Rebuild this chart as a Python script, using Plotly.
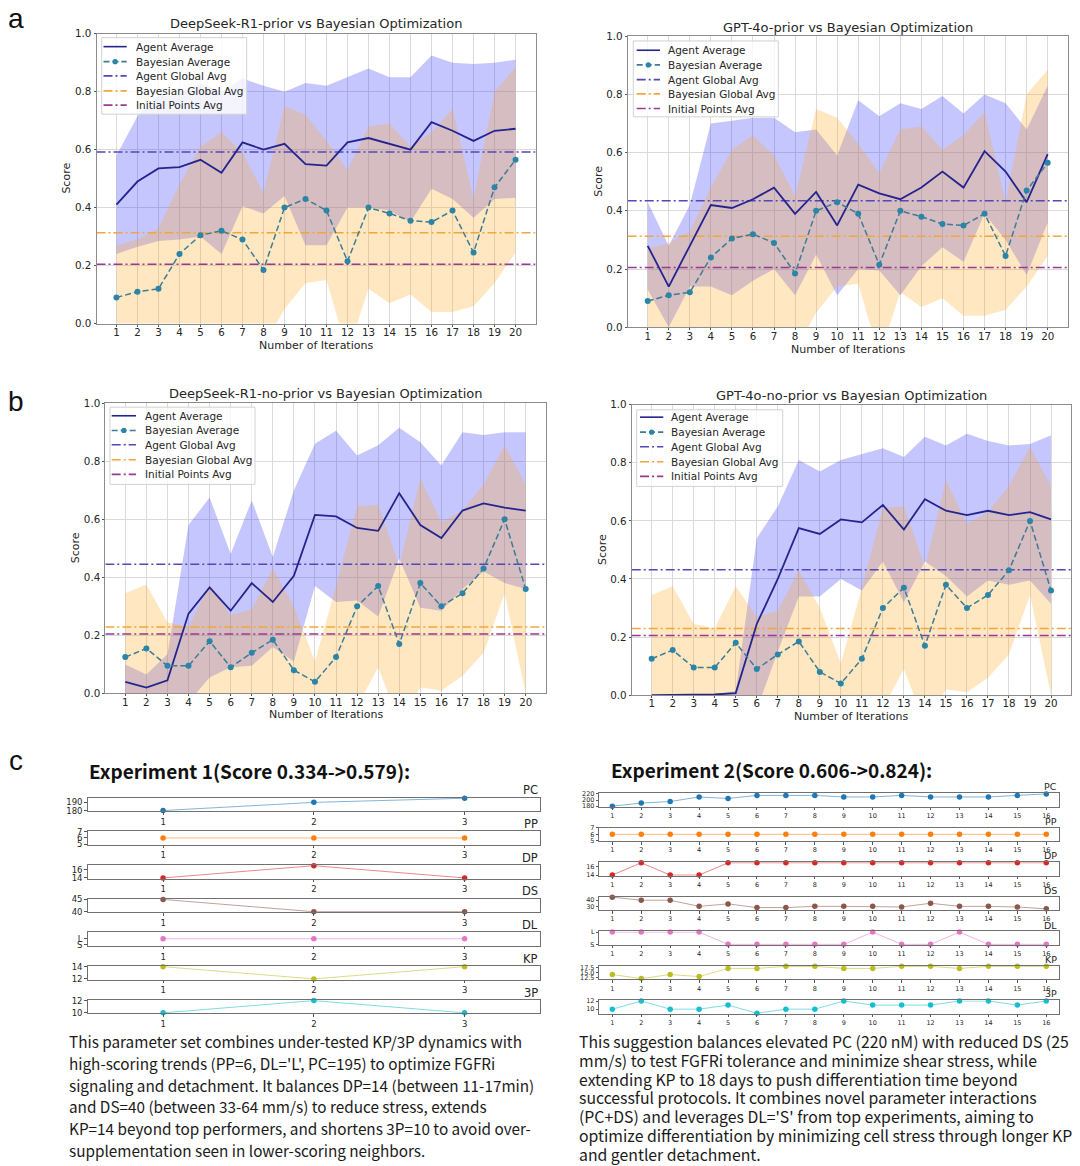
import plotly.graph_objects as go

W, H = 1080, 1166

# ---------------- data: panels a / b ----------------
iterations = list(range(1, 21))
score_ticks = [0.0, 0.2, 0.4, 0.6, 0.8, 1.0]

# Bayesian optimization (shared by both charts of row a)
bayes_a_mean = [0.09, 0.11, 0.12, 0.24, 0.305, 0.32, 0.29, 0.185, 0.40, 0.43, 0.39, 0.215, 0.40, 0.38, 0.355, 0.35, 0.39, 0.245, 0.47, 0.565]
bayes_a_upper = [0.27, 0.29, 0.33, 0.48, 0.61, 0.66, 0.59, 0.45, 0.75, 0.72, 0.63, 0.53, 0.68, 0.69, 0.61, 0.66, 0.74, 0.43, 0.80, 0.885]
bayes_a_lower = [-0.09, -0.07, -0.09, 0.0, 0.0, -0.02, -0.01, -0.08, 0.05, 0.14, 0.15, -0.10, 0.12, 0.07, 0.10, 0.04, 0.04, 0.06, 0.14, 0.245]
bayes_a_global = 0.313

# DeepSeek-R1-prior
ds_prior_mean = [0.41, 0.49, 0.535, 0.54, 0.565, 0.52, 0.625, 0.60, 0.62, 0.55, 0.545, 0.625, 0.64, 0.62, 0.60, 0.695, 0.665, 0.63, 0.665, 0.672]
ds_prior_upper = [0.58, 0.715, 0.785, 0.79, 0.83, 0.80, 0.845, 0.82, 0.80, 0.83, 0.82, 0.85, 0.88, 0.85, 0.85, 0.925, 0.90, 0.895, 0.90, 0.91]
ds_prior_lower = [0.24, 0.265, 0.285, 0.29, 0.30, 0.24, 0.405, 0.38, 0.44, 0.27, 0.27, 0.40, 0.40, 0.39, 0.35, 0.465, 0.43, 0.365, 0.43, 0.434]
ds_prior_global = 0.592

# GPT-4o-prior
gpt_prior_mean = [0.28, 0.14, 0.28, 0.42, 0.41, 0.44, 0.48, 0.39, 0.465, 0.35, 0.49, 0.46, 0.44, 0.48, 0.535, 0.48, 0.605, 0.535, 0.43, 0.595]
gpt_prior_upper = [0.43, 0.28, 0.42, 0.70, 0.71, 0.72, 0.72, 0.67, 0.68, 0.59, 0.78, 0.725, 0.77, 0.75, 0.795, 0.735, 0.80, 0.77, 0.68, 0.83]
gpt_prior_lower = [0.13, 0.0, 0.14, 0.14, 0.11, 0.16, 0.20, 0.11, 0.25, 0.11, 0.20, 0.195, 0.11, 0.21, 0.275, 0.225, 0.39, 0.30, 0.18, 0.36]
gpt_prior_global = 0.435

# Bayesian optimization (shared by both charts of row b)
bayes_b_mean = [0.125, 0.155, 0.095, 0.095, 0.18, 0.09, 0.14, 0.185, 0.08, 0.04, 0.125, 0.30, 0.37, 0.17, 0.38, 0.30, 0.345, 0.43, 0.60, 0.36]
bayes_b_upper = [0.345, 0.375, 0.245, 0.23, 0.375, 0.27, 0.29, 0.43, 0.30, 0.11, 0.37, 0.645, 0.65, 0.44, 0.74, 0.59, 0.63, 0.72, 0.855, 0.72]
bayes_b_lower = [-0.095, -0.065, -0.055, -0.04, -0.015, -0.09, -0.01, -0.06, -0.14, -0.03, -0.12, -0.045, 0.09, -0.10, 0.02, 0.01, 0.06, 0.14, 0.345, 0.0]
bayes_b_global = 0.229

# DeepSeek-R1-no-prior
ds_noprior_mean = [0.04, 0.02, 0.045, 0.275, 0.365, 0.285, 0.38, 0.315, 0.405, 0.615, 0.61, 0.57, 0.56, 0.69, 0.58, 0.535, 0.63, 0.655, 0.64, 0.63]
ds_noprior_upper = [0.10, 0.065, 0.135, 0.58, 0.675, 0.48, 0.665, 0.47, 0.70, 0.86, 0.905, 0.82, 0.855, 0.915, 0.865, 0.785, 0.90, 0.89, 0.90, 0.90]
ds_noprior_lower = [-0.02, -0.025, -0.045, -0.03, 0.055, 0.09, 0.095, 0.16, 0.11, 0.37, 0.315, 0.32, 0.265, 0.465, 0.295, 0.285, 0.36, 0.42, 0.38, 0.36]
ds_noprior_global = 0.445

# GPT-4o-no-prior
gpt_noprior_mean = [0.0, 0.0, 0.0, 0.002, 0.007, 0.245, 0.40, 0.575, 0.555, 0.605, 0.595, 0.655, 0.57, 0.675, 0.635, 0.62, 0.635, 0.62, 0.63, 0.605]
gpt_noprior_upper = [0.0, 0.0, 0.0, 0.004, 0.014, 0.54, 0.65, 0.81, 0.77, 0.81, 0.83, 0.85, 0.82, 0.89, 0.86, 0.90, 0.875, 0.86, 0.865, 0.895]
gpt_noprior_lower = [0.0, 0.0, 0.0, 0.0, 0.0, -0.05, 0.15, 0.34, 0.34, 0.40, 0.36, 0.46, 0.32, 0.46, 0.41, 0.34, 0.395, 0.38, 0.395, 0.315]
gpt_noprior_global = 0.432

initial_points_avg = 0.205

legend_labels = ["Agent Average", "Bayesian Average", "Agent Global Avg", "Bayesian Global Avg", "Initial Points Avg"]

# ---------------- data: panel c ----------------
param_names = ["PC", "PP", "DP", "DS", "DL", "KP", "3P"]

exp1_steps = [1, 2, 3]
exp1_PC = [180, 190, 195]
exp1_PP = [6, 6, 6]
exp1_DP = [14, 17, 14]
exp1_DS = [45, 40, 40]
exp1_DL = ["L", "L", "L"]
exp1_KP = [14, 12, 14]
exp1_3P = [10, 12, 10]

exp2_steps = list(range(1, 17))
exp2_PC = [180, 190, 195, 210, 205, 215, 215, 215, 210, 210, 215, 210, 210, 210, 215, 220]
exp2_PP = [6, 6, 6, 6, 6, 6, 6, 6, 6, 6, 6, 6, 6, 6, 6, 6]
exp2_DP = [14, 17, 14, 14, 17, 17, 17, 17, 17, 17, 17, 17, 17, 17, 17, 17]
exp2_DS = [45, 40, 40, 30, 34, 28, 28, 30, 30, 30, 29, 35, 30, 30, 29, 26]
exp2_DL = ["L", "L", "L", "L", "S", "S", "S", "S", "S", "L", "S", "S", "L", "S", "S", "S"]
exp2_KP = [14, 12, 14, 13, 17, 17, 18, 18, 17, 17, 18, 18, 17, 18, 18, 18]
exp2_3P = [10, 12, 10, 10, 11, 9, 10, 10, 12, 11, 11, 11, 12, 12, 11, 12]

dl_levels = ["S", "L"]

exp1_title = "Experiment 1(Score 0.334->0.579):"
exp2_title = "Experiment 2(Score 0.606->0.824):"

exp1_text = [
    "This parameter set combines under-tested KP/3P dynamics with",
    "high-scoring trends (PP=6, DL='L', PC=195) to optimize FGFRi",
    "signaling and detachment. It balances DP=14 (between 11-17min)",
    "and DS=40 (between 33-64 mm/s) to reduce stress, extends",
    "KP=14 beyond top performers, and shortens 3P=10 to avoid over-",
    "supplementation seen in lower-scoring neighbors.",
]
exp2_text = [
    "This suggestion balances elevated PC (220 nM) with reduced DS (25",
    "mm/s) to test FGFRi tolerance and minimize shear stress, while",
    "extending KP to 18 days to push differentiation time beyond",
    "successful protocols. It combines novel parameter interactions",
    "(PC+DS) and leverages DL='S' from top experiments, aiming to",
    "optimize differentiation by minimizing cell stress through longer KP",
    "and gentler detachment.",
]

# ---------------- styles ----------------
AGENT_LINE = "#24248f"
AGENT_FILL = "rgba(45,45,250,0.27)"
BAYES_LINE = "#3f7b92"
BAYES_MARK = "#2c85a6"
BAYES_FILL = "rgba(255,168,30,0.27)"
AGENT_GLOBAL = "#5447b8"
BAYES_GLOBAL = "#f2a63c"
INIT_AVG = "#983a90"
GRID = "#dadada"
FRAME = "#8c8c8c"
TXT = "#262626"
MPL = "DejaVu Sans"
TEXT_FONT = "Noto Sans CJK SC"
DASHDOT = "9px,3px,2px,3px"
DASH = "6px,3px"
TAB = {"PC": "#1f77b4", "PP": "#ff7f0e", "DP": "#d62728", "DS": "#8c564b",
       "DL": "#e377c2", "KP": "#bcbd22", "3P": "#17becf"}

# small vertical calibration of the page layout
Y_SHIFT, Y_SCALE = 5.0, 0.991


def X(px):
    return px / W


def Y(py):
    return 1 - ((py - Y_SHIFT) / Y_SCALE) / H


def rgba(hexcol, a):
    h = hexcol.lstrip("#")
    return "rgba(%d,%d,%d,%.2f)" % (int(h[0:2], 16), int(h[2:4], 16), int(h[4:6], 16), a)


fig = go.Figure()
axes_layout = {}
annotations = []
shapes = []
counter = [0]


def add_axes(x0, x1, y0, y1, xa, ya):
    counter[0] += 1
    n = counter[0]
    k = "" if n == 1 else str(n)
    axes_layout["xaxis" + k] = dict(domain=[X(x0), X(x1)], anchor="y" + k, **xa)
    axes_layout["yaxis" + k] = dict(domain=[Y(y1), Y(y0)], anchor="x" + k, **ya)
    return "x" + k, "y" + k


def main_axis(rng, tickvals, fmt=None, standoff=0):
    d = dict(range=rng, tickvals=tickvals, showgrid=True, gridcolor=GRID, gridwidth=1,
             showline=True, mirror=True, linecolor=FRAME, linewidth=1, zeroline=False,
             ticks="outside", ticklen=2, tickwidth=1, tickcolor="#555",
             ticklabelstandoff=standoff,
             tickfont=dict(family=MPL, size=10.3, color=TXT), fixedrange=True)
    if fmt:
        d["tickformat"] = fmt
    return d


def text(s, x, y, size, xanchor="center", yanchor="middle", angle=0, family=MPL, color=TXT):
    annotations.append(dict(text=s, x=X(x), y=Y(y), xref="paper", yref="paper",
                            xanchor=xanchor, yanchor=yanchor, showarrow=False, textangle=angle,
                            font=dict(family=family, size=size, color=color)))


legend_styles = [
    (AGENT_LINE, "solid", False),
    (BAYES_LINE, DASH, True),
    (AGENT_GLOBAL, DASHDOT, False),
    (BAYES_GLOBAL, DASHDOT, False),
    (INIT_AVG, DASHDOT, False),
]


def draw_legend(box, rows, sx0, sx1, tx):
    bx0, by0, bx1, by1 = box
    shapes.append(dict(type="rect", xref="paper", yref="paper", x0=X(bx0), x1=X(bx1),
                       y0=Y(by1), y1=Y(by0), fillcolor="rgba(255,255,255,0.8)",
                       line=dict(color="#d2d2d2", width=1), layer="above"))
    for label, (col, dash, mk), ry in zip(legend_labels, legend_styles, rows):
        shapes.append(dict(type="line", xref="paper", yref="paper", x0=X(sx0), x1=X(sx1),
                           y0=Y(ry), y1=Y(ry), line=dict(color=col, width=1.6, dash=dash), layer="above"))
        if mk:
            cx, r = (sx0 + sx1) / 2, 2.6
            shapes.append(dict(type="circle", xref="paper", yref="paper", x0=X(cx - r), x1=X(cx + r),
                               y0=Y(ry + r), y1=Y(ry - r), fillcolor=BAYES_MARK,
                               line=dict(width=0), layer="above"))
        text(label, tx, ry, 10.5, xanchor="left")


def score_chart(c):
    xa, ya = add_axes(c["x0"], c["x1"], c["y0"], c["y1"],
                      main_axis([0.05, 20.95], iterations, standoff=-3),
                      main_axis([0, 1], score_ticks, ".1f"))
    common = dict(xaxis=xa, yaxis=ya, showlegend=False, hoverinfo="skip")
    fig.add_trace(go.Scatter(x=iterations, y=c["alo"], mode="lines", line=dict(width=0), **common))
    fig.add_trace(go.Scatter(x=iterations, y=c["ahi"], mode="lines", line=dict(width=0),
                             fill="tonexty", fillcolor=AGENT_FILL, **common))
    fig.add_trace(go.Scatter(x=iterations, y=c["blo"], mode="lines", line=dict(width=0), **common))
    fig.add_trace(go.Scatter(x=iterations, y=c["bhi"], mode="lines", line=dict(width=0),
                             fill="tonexty", fillcolor=BAYES_FILL, **common))
    for val, col in [(c["ag"], AGENT_GLOBAL), (c["bg"], BAYES_GLOBAL), (initial_points_avg, INIT_AVG)]:
        fig.add_trace(go.Scatter(x=[0.05, 20.95], y=[val, val], mode="lines",
                                 line=dict(color=col, width=1.5, dash=DASHDOT), **common))
    fig.add_trace(go.Scatter(x=iterations, y=c["am"], mode="lines",
                             line=dict(color=AGENT_LINE, width=1.8), **common))
    fig.add_trace(go.Scatter(x=iterations, y=c["bm"], mode="lines+markers",
                             line=dict(color=BAYES_LINE, width=1.5, dash=DASH),
                             marker=dict(color=BAYES_MARK, size=6), **common))
    cx = (c["x0"] + c["x1"]) / 2
    cy = (c["y0"] + c["y1"]) / 2
    text(c["title"], cx, c["ty"], 13)
    text("Number of Iterations", cx, c["xly"], 11)
    text("Score", c["ylx"], cy, 11, angle=-90)
    draw_legend(c["lbox"], c["lrows"], c["sx0"], c["sx1"], c["tx"])


charts = [
    dict(x0=96.5, x1=535.5, y0=32.7, y1=323, title="DeepSeek-R1-prior vs Bayesian Optimization",
         am=ds_prior_mean, ahi=ds_prior_upper, alo=ds_prior_lower,
         bm=bayes_a_mean, bhi=bayes_a_upper, blo=bayes_a_lower,
         ag=ds_prior_global, bg=bayes_a_global, ty=23, xly=344.5, ylx=67,
         lbox=(101.7, 36.7, 246.7, 113.3), lrows=[45.7, 60.7, 75, 90, 104.3], sx0=103.5, sx1=126.7, tx=134),
    dict(x0=627.7, x1=1067.7, y0=35.3, y1=326.7, title="GPT-4o-prior vs Bayesian Optimization",
         am=gpt_prior_mean, ahi=gpt_prior_upper, alo=gpt_prior_lower,
         bm=bayes_a_mean, bhi=bayes_a_upper, blo=bayes_a_lower,
         ag=gpt_prior_global, bg=bayes_a_global, ty=26.7, xly=348.5, ylx=599,
         lbox=(633.3, 40, 778.3, 116), lrows=[49.3, 64, 78.7, 93, 107.7], sx0=636.7, sx1=660, tx=666),
    dict(x0=105.3, x1=545.7, y0=402.7, y1=693.3, title="DeepSeek-R1-no-prior vs Bayesian Optimization",
         am=ds_noprior_mean, ahi=ds_noprior_upper, alo=ds_noprior_lower,
         bm=bayes_b_mean, bhi=bayes_b_upper, blo=bayes_b_lower,
         ag=ds_noprior_global, bg=bayes_b_global, ty=393.3, xly=714.5, ylx=75,
         lbox=(110, 406.7, 255, 484), lrows=[415.3, 430, 444.3, 459.3, 474], sx0=111.7, sx1=136, tx=143),
    dict(x0=631.7, x1=1071, y0=404.3, y1=695, title="GPT-4o-no-prior vs Bayesian Optimization",
         am=gpt_noprior_mean, ahi=gpt_noprior_upper, alo=gpt_noprior_lower,
         bm=bayes_b_mean, bhi=bayes_b_upper, blo=bayes_b_lower,
         ag=gpt_noprior_global, bg=bayes_b_global, ty=395, xly=716.5, ylx=603,
         lbox=(636.7, 409.3, 782.7, 486), lrows=[416.7, 431.7, 446.3, 461.3, 476], sx0=640, sx1=663.3, tx=669),
]
for c in charts:
    score_chart(c)


# ---------------- panel c ----------------
def small_axis(rng, tickvals, ticktext, fs):
    return dict(range=rng, tickvals=tickvals, ticktext=ticktext, showgrid=False,
                showline=True, mirror=True, linecolor="#707070", linewidth=1, zeroline=False,
                ticks="outside", ticklen=2.5, tickwidth=1, tickcolor="#555",
                tickfont=dict(family=MPL, size=fs, color=TXT), fixedrange=True)


def param_panel(x0, x1, y0, y1, xr, steps, values, name, yr, ytv, ytt, fs_x, fs_y, fs_title, title_y):
    if name == "DL":
        yvals = [dl_levels.index(v) for v in values]
    else:
        yvals = values
    xa, ya = add_axes(x0, x1, y0, y1,
                      small_axis(xr, steps, [str(s) for s in steps], fs_x),
                      small_axis(yr, ytv, ytt, fs_y))
    col = TAB[name]
    fig.add_trace(go.Scatter(x=steps, y=yvals, mode="lines+markers", cliponaxis=False,
                             line=dict(color=rgba(col, 0.55), width=1),
                             marker=dict(color=col, size=5.5),
                             xaxis=xa, yaxis=ya, showlegend=False, hoverinfo="skip"))
    text(name, x1, title_y, fs_title, xanchor="right")


exp1_values = [exp1_PC, exp1_PP, exp1_DP, exp1_DS, exp1_DL, exp1_KP, exp1_3P]
exp1_yr = [[179.25, 195.75], [4.95, 7.05], [13.85, 17.15], [39.75, 45.25], [-0.2, 2.05], [11.9, 14.1], [9.9, 12.1]]
exp1_ytv = [[180, 190], [5, 6, 7], [14, 16], [40, 45], [0, 1], [12, 14], [10, 12]]
exp1_ytt = [["180", "190"], ["5", "6", "7"], ["14", "16"], ["40", "45"], dl_levels, ["12", "14"], ["10", "12"]]
exp1_tops = [797.7, 831.3, 865.2, 899.0, 932.7, 966.3, 1000.3]

exp2_values = [exp2_PC, exp2_PP, exp2_DP, exp2_DS, exp2_DL, exp2_KP, exp2_3P]
exp2_yr = [[178, 222], [4.95, 7.05], [13.85, 17.15], [24, 46], [-0.05, 1.05], [11.7, 18.3], [8.85, 12.15]]
exp2_ytv = [[180, 200, 220], [5, 6, 7], [14, 16], [30, 40], [0, 1], [12.5, 15.0, 17.5], [10, 12]]
exp2_ytt = [["180", "200", "220"], ["5", "6", "7"], ["14", "16"], ["30", "40"], dl_levels, ["12.5", "15.0", "17.5"], ["10", "12"]]
exp2_tops = [793.3, 827.7, 862.3, 896.7, 931.7, 966.0, 1000.7]

for name, vals, yr, tv, tt, top in zip(param_names, exp1_values, exp1_yr, exp1_ytv, exp1_ytt, exp1_tops):
    param_panel(87.7, 540, top, top + 13.5, [0.5, 3.5], exp1_steps, vals, name, yr, tv, tt,
                8.5, 8.5, 11.5, top - 7.5)

for name, vals, yr, tv, tt, top in zip(param_names, exp2_values, exp2_yr, exp2_ytv, exp2_ytt, exp2_tops):
    param_panel(599.3, 1059.3, top, top + 13.5, [0.55, 16.45], exp2_steps, vals, name, yr, tv, tt,
                6.5, 6.5, 9.5, top - 6.5)

text("<b>" + exp1_title + "</b>", 87, 770.5, 19, xanchor="left", family=TEXT_FONT, color="#111")
text("<b>" + exp2_title + "</b>", 609, 769, 19, xanchor="left", family=TEXT_FONT, color="#111")

for i, line in enumerate(exp1_text):
    text(line, 67, 1041.7 + i * 21.7, 15.3, xanchor="left", family=TEXT_FONT, color="#1a1a1a")
for i, line in enumerate(exp2_text):
    text(line, 577, 1041.7 + i * 18.9, 15.8, xanchor="left", family=TEXT_FONT, color="#1a1a1a")

# panel letters
text("a", 16, 18, 28, family="Liberation Sans", color="#111")
text("b", 16, 401, 28, family="Liberation Sans", color="#111")
text("c", 16, 760, 28, family="Liberation Sans", color="#111")

fig.update_layout(
    width=W, height=H, margin=dict(l=0, r=0, t=0, b=0, pad=0),
    paper_bgcolor="white", plot_bgcolor="white", showlegend=False,
    annotations=annotations, shapes=shapes, **axes_layout,
)

fig.write_html(
    "out.html",
    config={"displayModeBar": False},
    post_script="var gd=document.getElementById('{plot_id}');gd.style.position='fixed';"
                "gd.style.left='0px';gd.style.top='0px';document.body.style.margin='0px';"
                "document.documentElement.style.overflow='hidden';",
)
